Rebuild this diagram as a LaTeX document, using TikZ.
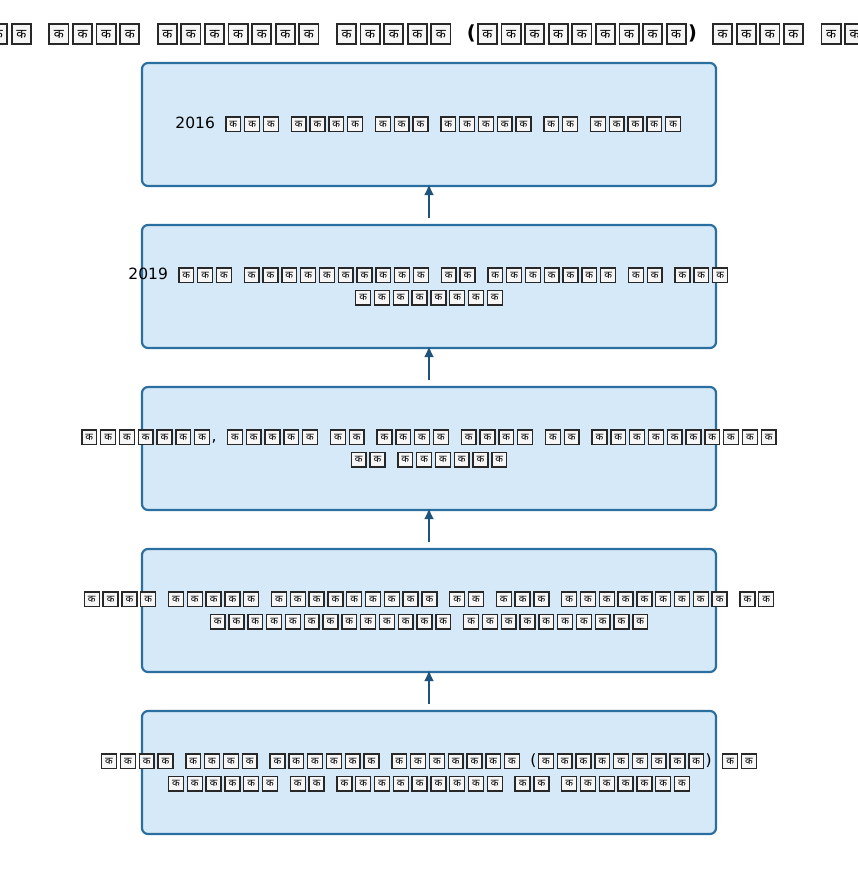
\documentclass[tikz,border=0pt]{standalone}
\usepackage{fontspec}
\usepackage{newunicodechar}
\usetikzlibrary{arrows.meta}
\setmainfont{DejaVu Sans}
\newfontfamily\devfont[Script=Devanagari]{Noto Sans}
\definecolor{boxfill}{RGB}{214,233,248}
\definecolor{boxedge}{RGB}{42,111,160}
\definecolor{arrowcol}{RGB}{30,84,124}
\definecolor{tofuedge}{RGB}{40,40,40}
\definecolor{tofufill}{RGB}{246,246,246}
\newlength\tfw \newlength\tfh \newlength\tfp \newlength\tfd \newlength\tfr
\def\tfs{10}
\newcommand\tofuglyph{\makebox[\tfp]{\raisebox{\dimexpr\tfd-0.5\tfh\relax}{\setlength\fboxsep{0pt}\setlength\fboxrule{\tfr}\fcolorbox{tofuedge}{tofufill}{\vbox to \dimexpr\tfh-2\tfr\relax{\vss\hbox to \dimexpr\tfw-2\tfr\relax{\hss\devfont\fontsize{\tfs}{\tfs}\selectfont\char"0915\relax\hss}\vss}}}}}
\newunicodechar{क}{\tofuglyph}
\newcommand\bodyset{\fontsize{15.5}{22.5}\selectfont\spaceskip=9pt\relax
  \setlength\tfw{16.3pt}\setlength\tfh{16pt}\setlength\tfp{18.8pt}\setlength\tfd{5.6pt}\setlength\tfr{1.4pt}\def\tfs{10}}
\newcommand\titleset{\fontsize{19.4}{23}\selectfont\bfseries\spaceskip=14pt\relax
  \setlength\tfw{21pt}\setlength\tfh{22pt}\setlength\tfp{23.6pt}\setlength\tfd{7pt}\setlength\tfr{1.8pt}\def\tfs{13}}
\begin{document}
\begin{tikzpicture}[x=1pt,y=-1pt,
  stagebox/.style={draw=boxedge,fill=boxfill,line width=2.2pt,rounded corners=6pt,
    minimum width=574pt,minimum height=123pt,inner sep=0pt},
  stagetext/.style={align=center,inner sep=0pt,font=\bodyset,text=black},
  titletext/.style={inner sep=0pt,font=\titleset,text=black},
  uparrow/.style={draw=arrowcol,line width=2.5pt,-{Latex[length=11pt,width=10pt]}}]
\useasboundingbox (0,0) rectangle (858,877);
\fill[white] (0,0) rectangle (858,877);
\node[titletext,anchor=base west] (title) at (-14.25,39.5) {कक कककक ककककककक ककककक (ककककककककक) कककक ककक};
\node[stagebox] (b1) at (429,124.5) {};
\node[stagebox] (b2) at (429,286.5) {};
\node[stagebox] (b3) at (429,448.5) {};
\node[stagebox] (b4) at (429,610.5) {};
\node[stagebox] (b5) at (429,772.5) {};
\node[stagetext] (t1) at (b1.center) {2016 ककक कककक ककक ककककक कक ककककक};
\node[stagetext] (t2) at (b2.center) {2019 ककक कककककककककक कक ककककककक कक ककक\\कककककककक};
\node[stagetext] (t3) at (b3.center) {ककककककक, ककककक कक कककक कककक कक कककककककककक\\कक कककककक};
\node[stagetext] (t4) at (b4.center) {कककक ककककक ककककककककक कक ककक ककककककककक कक\\ककककककककककककक कककककककककक};
\node[stagetext] (t5) at (b5.center) {कककक कककक कककककक ककककककक (ककककककककक) कक\\कककककक कक ककककककककक कक ककककककक};
\draw[uparrow] ([yshift=6pt]b2.north) -- ([yshift=3pt]b1.south);
\draw[uparrow] ([yshift=6pt]b3.north) -- ([yshift=3pt]b2.south);
\draw[uparrow] ([yshift=6pt]b4.north) -- ([yshift=3pt]b3.south);
\draw[uparrow] ([yshift=6pt]b5.north) -- ([yshift=3pt]b4.south);
\end{tikzpicture}
\end{document}
